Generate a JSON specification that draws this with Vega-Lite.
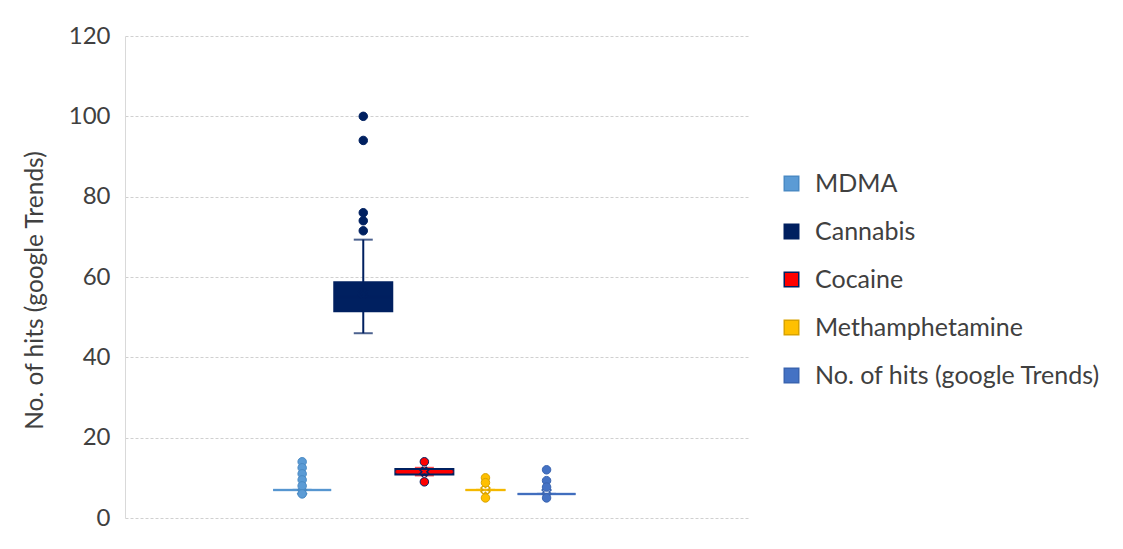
{
  "$schema": "https://vega.github.io/schema/vega-lite/v6.json",
  "width": 623,
  "height": 482,
  "autosize": {"type": "none"},
  "padding": {"left": 125, "top": 36, "right": 375, "bottom": 31},
  "background": "white",
  "config": {"view": {"stroke": null}, "font": "Lato"},
  "datasets": {
    "boxes": [
      {"drug": "MDMA", "lower": 7, "q1": 7, "median": 7, "q3": 7, "upper": 7, "mean": 6.5},
      {"drug": "Cannabis", "lower": 46, "q1": 51.5, "median": 55, "q3": 58.7, "upper": 69.3, "mean": 56},
      {"drug": "Cocaine", "lower": 10.6, "q1": 10.8, "median": 11.5, "q3": 12.2, "upper": 12.5, "mean": 11.5},
      {"drug": "Methamphetamine", "lower": 7, "q1": 7, "median": 7, "q3": 7, "upper": 7, "mean": 7},
      {"drug": "No. of hits (google Trends)", "lower": 6, "q1": 6, "median": 6, "q3": 6, "upper": 6, "mean": 6.5}
    ],
    "outliers": [
      {"drug": "MDMA", "value": 14},
      {"drug": "MDMA", "value": 12.5},
      {"drug": "MDMA", "value": 11},
      {"drug": "MDMA", "value": 9.5},
      {"drug": "MDMA", "value": 8},
      {"drug": "MDMA", "value": 6},
      {"drug": "Cannabis", "value": 100},
      {"drug": "Cannabis", "value": 94},
      {"drug": "Cannabis", "value": 76},
      {"drug": "Cannabis", "value": 74},
      {"drug": "Cannabis", "value": 71.5},
      {"drug": "Cocaine", "value": 14},
      {"drug": "Cocaine", "value": 9},
      {"drug": "Methamphetamine", "value": 10},
      {"drug": "Methamphetamine", "value": 8.8},
      {"drug": "Methamphetamine", "value": 5},
      {"drug": "No. of hits (google Trends)", "value": 12},
      {"drug": "No. of hits (google Trends)", "value": 9.3},
      {"drug": "No. of hits (google Trends)", "value": 7.7},
      {"drug": "No. of hits (google Trends)", "value": 5}
    ]
  },
  "encoding": {
    "x": {
      "field": "drug",
      "type": "nominal",
      "sort": null,
      "scale": {"type": "point", "domain": [" ", "  ", "MDMA", "Cannabis", "Cocaine", "Methamphetamine", "No. of hits (google Trends)", "   ", "    ", "     "], "padding": 0.598, "align": 0.752},
      "axis": null
    }
  },
  "layer": [
    {
      "data": {"name": "boxes"},
      "mark": {"type": "rule", "strokeWidth": 2},
      "encoding": {
        "y": {
          "field": "lower",
          "type": "quantitative",
          "scale": {"domain": [0, 120]},
          "axis": {
            "values": [0, 20, 40, 60, 80, 100, 120],
            "title": "No. of hits (google Trends)",
            "titleFont": "Lato",
            "titleFontSize": 24.5,
            "titleFontWeight": "normal",
            "titleColor": "#404040",
            "titleX": -78,
            "titleY": 254,
            "labelFontSize": 24,
            "labelColor": "#404040",
            "labelPadding": 15,
            "ticks": false,
            "domain": true,
            "domainColor": "#d9d9d9",
            "grid": true,
            "gridColor": "#d0d0d0",
            "gridDash": [3, 2],
            "gridWidth": 1
          }
        },
        "y2": {"field": "upper"},
        "stroke": {
          "field": "drug",
          "type": "nominal",
          "scale": {"domain": ["MDMA", "Cannabis", "Cocaine", "Methamphetamine", "No. of hits (google Trends)"], "range": ["#4A8AC4", "#002060", "#002060", "#D9A300", "#3A64B0"]}
        }
      }
    },
    {
      "data": {"name": "boxes"},
      "transform": [{"fold": ["lower", "upper"], "as": ["end", "v"]}],
      "mark": {"type": "tick", "thickness": 2, "size": 19},
      "encoding": {
        "y": {"field": "v", "type": "quantitative"},
        "fill": {"field": "drug", "type": "nominal"}
      }
    },
    {
      "data": {"name": "boxes"},
      "mark": {"type": "bar", "strokeWidth": 2},
      "encoding": {
        "y": {"field": "q1", "type": "quantitative"},
        "y2": {"field": "q3"},
        "size": {"condition": {"test": "datum.drug === 'Methamphetamine'", "value": 40}, "value": 58},
        "fill": {
          "field": "drug",
          "type": "nominal",
          "scale": {"domain": ["MDMA", "Cannabis", "Cocaine", "Methamphetamine", "No. of hits (google Trends)"], "range": ["#5B9BD5", "#002060", "#FF0000", "#FFC000", "#4472C4"]},
          "legend": {
            "title": null,
            "orient": "none",
            "legendX": 654,
            "legendY": 135,
            "symbolType": "square",
            "symbolSize": 210,
            "symbolStrokeWidth": 1.5,
            "labelFont": "Lato",
            "labelFontSize": 25,
            "labelColor": "#404040",
            "labelOffset": 11,
            "labelLimit": 400,
            "rowPadding": 22
          }
        },
        "stroke": {
          "field": "drug",
          "type": "nominal",
          "legend": {
            "title": null,
            "orient": "none",
            "legendX": 654,
            "legendY": 135,
            "symbolType": "square",
            "symbolSize": 210,
            "symbolStrokeWidth": 1.5,
            "labelFont": "Lato",
            "labelFontSize": 25,
            "labelColor": "#404040",
            "labelOffset": 11,
            "labelLimit": 400,
            "rowPadding": 22
          }
        }
      }
    },
    {
      "data": {"name": "boxes"},
      "mark": {"type": "tick", "thickness": 2.5},
      "encoding": {
        "y": {"field": "median", "type": "quantitative"},
        "size": {"condition": {"test": "datum.drug === 'Methamphetamine'", "value": 40}, "value": 58},
        "fill": {"field": "drug", "type": "nominal"}
      }
    },
    {
      "data": {"name": "boxes"},
      "mark": {"type": "point", "shape": "cross", "angle": 45, "filled": false, "size": 80, "strokeWidth": 1.5, "opacity": 1},
      "encoding": {
        "y": {"field": "mean", "type": "quantitative"},
        "stroke": {"field": "drug", "type": "nominal"}
      }
    },
    {
      "data": {"name": "outliers"},
      "mark": {"type": "circle", "size": 72, "strokeWidth": 1, "opacity": 1},
      "encoding": {
        "y": {"field": "value", "type": "quantitative"},
        "fill": {"field": "drug", "type": "nominal"},
        "stroke": {"field": "drug", "type": "nominal"}
      }
    }
  ]
}
